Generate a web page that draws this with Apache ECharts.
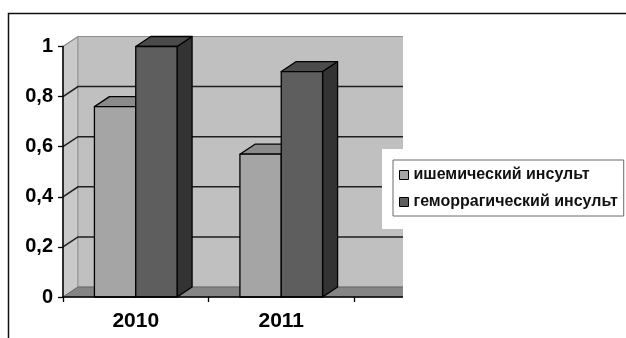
<!DOCTYPE html>
<html>
<head>
<meta charset="utf-8">
<script src="https://cdn.jsdelivr.net/npm/echarts@6/dist/echarts.min.js"></script>
<style>
  html, body { margin: 0; padding: 0; background: #fff; }
  #chart { width: 626px; height: 338px; }
</style>
</head>
<body>
<div id="chart"></div>
<script>
// Years on the category axis (the third slot is an empty band of the 3D floor)
const categories = ['2010', '2011', ''];
// Series names and values
const seriesNames = ['ишемический инсульт', 'геморрагический инсульт'];
const ischemic = [0.76, 0.57];
const hemorrhagic = [1.0, 0.9];
// Value-axis ticks
const yTicks = [0, 0.2, 0.4, 0.6, 0.8, 1];

// 3D look: depth offset of walls and bar tops, in pixels
const DX = 15, DY = 10;
const BAR_RATIO = 0.284;

const FONT = '"Liberation Sans", Arial, sans-serif';

const chart = echarts.init(document.getElementById('chart'), null, { renderer: 'canvas' });

// Back wall, side wall, floor and gridlines of the 3D box
function renderBox(params, api) {
  const cs = params.coordSys;
  const x = cs.x, y = cs.y, w = cs.width, h = cs.height;
  const children = [
    { type: 'polygon', shape: { points: [[x, y + h], [x, y], [x + DX, y - DY], [x + DX, y + h - DY]] },
      style: { fill: '#c9c9c9', stroke: '#8c8c8c', lineWidth: 1 } },
    { type: 'rect', shape: { x: x + DX, y: y - DY, width: w, height: h },
      style: { fill: '#c0c0c0', stroke: '#9a9a9a', lineWidth: 1.2 } },
    { type: 'polygon', shape: { points: [[x, y + h], [x + DX, y + h - DY], [x + w + DX, y + h - DY], [x + w, y + h]] },
      style: { fill: '#858585', stroke: '#6a6a6a', lineWidth: 1 } }
  ];
  yTicks.forEach(function (v) {
    if (v === 0) return;
    const py = api.coord([0, v])[1];
    const top = v === yTicks[yTicks.length - 1];
    children.push({
      type: 'polyline',
      shape: { points: [[x, py], [x + DX, py - DY], [x + w + DX, py - DY]] },
      style: { fill: null, stroke: top ? '#8f8f8f' : '#1e1e1e', lineWidth: top ? 1.2 : 1.5 }
    });
  });
  return { type: 'group', children: children };
}

// A 3D column: front face, top face and right side face
function makeBarRenderer(side, colors) {
  return function (params, api) {
    const idx = api.value(0);
    const v = api.value(1);
    const p = api.coord([idx, v]);
    const b = api.coord([idx, 0]);
    const band = api.size([1, 0])[0];
    const bw = band * BAR_RATIO;
    const x0 = side === 0 ? p[0] - bw : p[0];
    const ty = p[1], by = b[1];
    const edge = { stroke: '#000', lineWidth: 1.3, lineJoin: 'round' };
    return {
      type: 'group',
      children: [
        { type: 'polygon', shape: { points: [[x0 + bw, ty], [x0 + bw + DX, ty - DY], [x0 + bw + DX, by - DY], [x0 + bw, by]] },
          style: Object.assign({ fill: colors.side }, edge) },
        { type: 'polygon', shape: { points: [[x0, ty], [x0 + bw, ty], [x0 + bw + DX, ty - DY], [x0 + DX, ty - DY]] },
          style: Object.assign({ fill: colors.top }, edge) },
        { type: 'rect', shape: { x: x0, y: ty, width: bw, height: by - ty },
          style: Object.assign({ fill: colors.front }, edge) }
      ]
    };
  };
}

const lightColors = { front: '#a5a5a5', top: '#8b8b8b', side: '#6f6f6f' };
const darkColors = { front: '#5e5e5e', top: '#4b4b4b', side: '#333333' };

const option = {
  animation: false,
  backgroundColor: '#fff',
  grid: { left: 63, top: 46.5, width: 436.5, height: 250.5, containLabel: false },
  xAxis: {
    type: 'category',
    data: categories,
    z: 10,
    axisLine: { show: true, lineStyle: { color: '#000', width: 1.5 } },
    axisTick: { show: true, length: 5, alignWithLabel: false, lineStyle: { color: '#000', width: 1.3 } },
    axisLabel: { color: '#000', fontFamily: FONT, fontWeight: 'bold', fontSize: 21, margin: 14 },
    splitLine: { show: false }
  },
  yAxis: {
    type: 'value',
    min: 0,
    max: 1,
    interval: 0.2,
    z: 10,
    axisLine: { show: true, lineStyle: { color: '#000', width: 1.5 } },
    axisTick: { show: true, length: 5, lineStyle: { color: '#000', width: 1.3 } },
    axisLabel: {
      color: '#000', fontFamily: FONT, fontWeight: 'bold', fontSize: 20, margin: 10,
      formatter: function (v) { return String(v).replace('.', ','); }
    },
    splitLine: { show: false }
  },
  legend: {
    orient: 'vertical',
    left: 393,
    top: 160,
    z: 200,
    padding: [7, 6, 6, 6],
    itemGap: 11,
    itemWidth: 9,
    itemHeight: 9,
    backgroundColor: '#fff',
    borderColor: '#6a6a6a',
    borderWidth: 1,
    textStyle: { color: '#111', fontFamily: FONT, fontWeight: 'bold', fontSize: 16, lineHeight: 16 },
    data: [
      { name: seriesNames[0], icon: 'rect', itemStyle: { color: lightColors.front, borderColor: '#000', borderWidth: 1 } },
      { name: seriesNames[1], icon: 'rect', itemStyle: { color: darkColors.front, borderColor: '#000', borderWidth: 1 } }
    ]
  },
  graphic: [
    // white area right of the plot and behind the legend
    { type: 'rect', z: 100, shape: { x: 403, y: 14, width: 223, height: 324 }, style: { fill: '#fff' } },
    { type: 'rect', z: 100, shape: { x: 382, y: 149, width: 22, height: 80 }, style: { fill: '#fff' } },
    // outer frame
    { type: 'polyline', z: 300, shape: { points: [[8.5, 338], [8.5, 13.5], [626, 13.5]] },
      style: { fill: null, stroke: '#111', lineWidth: 1.5 } }
  ],
  series: [
    {
      type: 'custom',
      name: 'box',
      z: 1,
      silent: true,
      clip: false,
      renderItem: renderBox,
      data: [[0, 0]],
      encode: { x: 0, y: 1 }
    },
    {
      type: 'custom',
      name: seriesNames[0],
      z: 3,
      clip: false,
      itemStyle: { color: lightColors.front },
      renderItem: makeBarRenderer(0, lightColors),
      data: ischemic.map(function (v, i) { return [i, v]; }),
      encode: { x: 0, y: 1 }
    },
    {
      type: 'custom',
      name: seriesNames[1],
      z: 4,
      clip: false,
      itemStyle: { color: darkColors.front },
      renderItem: makeBarRenderer(1, darkColors),
      data: hemorrhagic.map(function (v, i) { return [i, v]; }),
      encode: { x: 0, y: 1 }
    }
  ]
};

chart.setOption(option);
</script>
</body>
</html>
